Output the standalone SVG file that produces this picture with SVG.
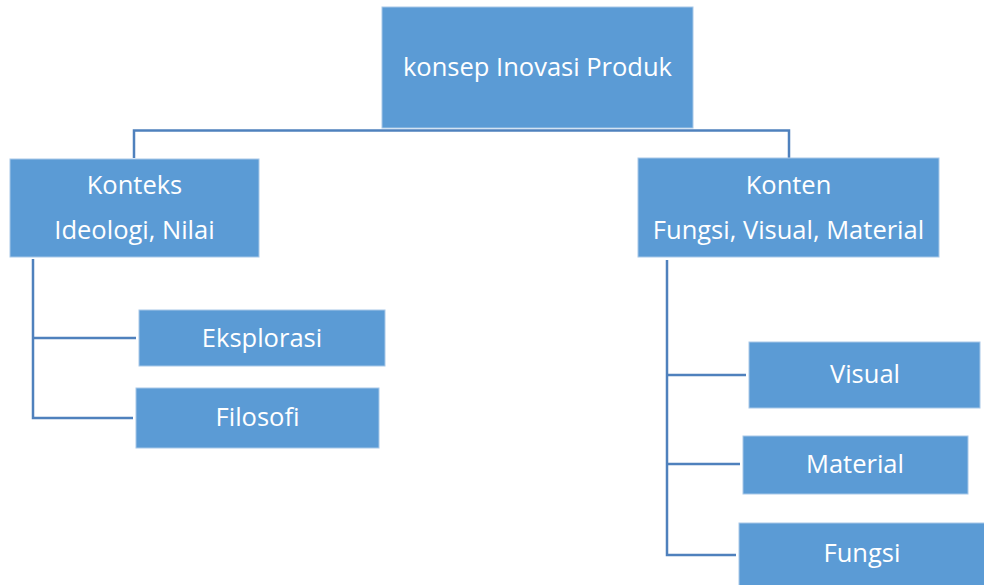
<svg xmlns="http://www.w3.org/2000/svg" width="984" height="585" viewBox="0 0 984 585">
  <style>
    .box { fill: #5b9bd5; stroke: #a8c8e8; stroke-width: 1; }
    .lbl { font-family: "Open Sans", "Noto Sans", "Liberation Sans", sans-serif; font-size: 25.5px; fill: #ffffff; text-anchor: middle; }
    .wire { fill: none; stroke: #4f81bd; stroke-width: 2.5; }
  </style>
  <rect width="984" height="585" fill="#ffffff"/>

  <!-- connectors -->
  <g id="connectors">
    <path class="wire" d="M134,158 V130.5 H789 V158"/>
    <path class="wire" d="M33,259 V418 H133 M33,338 H136"/>
    <path class="wire" d="M667,260 V555 H736 M667,375 H746 M667,464 H740"/>
  </g>

  <g id="root">
    <rect class="box" x="382" y="7" width="311" height="121"/>
    <text class="lbl" x="537.5" y="76">konsep Inovasi Produk</text>
  </g>

  <g id="konteks">
    <rect class="box" x="10" y="159" width="249" height="98"/>
    <text class="lbl" x="134.5" y="194">Konteks</text>
    <text class="lbl" x="134.5" y="239">Ideologi, Nilai</text>
  </g>

  <g id="konten">
    <rect class="box" x="638" y="158" width="301" height="99"/>
    <text class="lbl" x="788.5" y="194">Konten</text>
    <text class="lbl" x="788.5" y="239">Fungsi, Visual, Material</text>
  </g>

  <g id="eksplorasi">
    <rect class="box" x="139" y="310" width="246" height="56"/>
    <text class="lbl" x="262" y="347">Eksplorasi</text>
  </g>

  <g id="filosofi">
    <rect class="box" x="136" y="388" width="243" height="60"/>
    <text class="lbl" x="257.5" y="426">Filosofi</text>
  </g>

  <g id="visual">
    <rect class="box" x="749" y="342" width="231" height="66"/>
    <text class="lbl" x="865" y="383">Visual</text>
  </g>

  <g id="material">
    <rect class="box" x="743" y="436" width="225" height="58"/>
    <text class="lbl" x="855" y="473">Material</text>
  </g>

  <g id="fungsi">
    <rect class="box" x="739" y="523" width="246" height="63"/>
    <text class="lbl" x="862" y="562">Fungsi</text>
  </g>
</svg>
